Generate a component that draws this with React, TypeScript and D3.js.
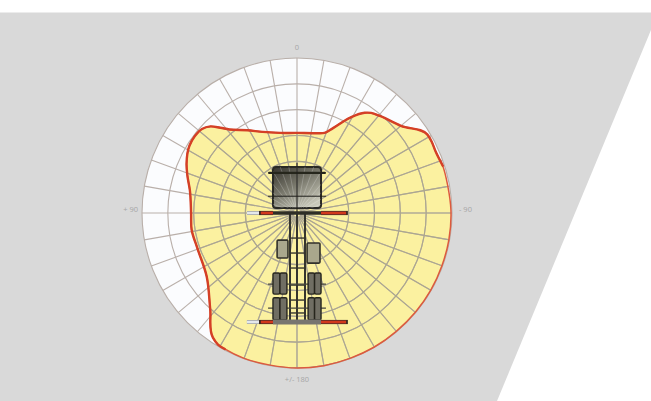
import * as d3 from 'd3';

const W = 651;
const H = 401;

// Polar grid
const ringSteps = [2, 3, 4, 5, 6];
const spokeAngles = d3.range(0, 360, 10);
const axisLabels = ['0', '- 90', '+/- 180', '+ 90'];

// Working range outline, clockwise from the front of the truck
const rangeAngles = [0, 13, 19, 23, 29, 34, 36.5, 40.5, 50, 59, 62, 66, 72, 80, 89, 100, 110, 120, 130, 140, 150, 160, 170, 180, 190, 200, 208, 211, 214, 222, 235, 251, 261, 270, 282, 289, 294, 302, 307, 311.5, 315, 318, 321, 329, 337, 348];
const rangeReach = [3.1, 3.17, 3.28, 3.57, 4.21, 4.68, 4.82, 4.94, 5.25, 5.89, 5.9, 5.87, 5.93, 5.93, 5.96, 5.97, 5.97, 5.98, 5.98, 5.98, 5.99, 5.99, 6, 6, 5.98, 5.99, 5.96, 5.94, 5.82, 5.02, 4.27, 4.09, 4.13, 4.1, 4.24, 4.49, 4.68, 4.91, 4.95, 4.91, 4.74, 4.44, 4.16, 3.74, 3.41, 3.17];

// Truck parts in the same units as the grid
const outriggerRows = [0, 4.22];
const chassisRails = [-0.27, 0, 0.31];
const crossMembers = [0.97, 1.55, 2.13, 2.79, 3.37, 3.87];
const axleRows = [2.75, 3.68];
const wheelRows = [[2.32, 3.14], [3.28, 4.14]];
const wheelCols = [[-0.93, -0.66], [-0.66, -0.39], [0.43, 0.68], [0.68, 0.93]];
const tanks = [[-0.77, -0.35, 1.05, 1.74], [0.39, 0.89, 1.16, 1.94]];

const cx = 297;
const cy = 213;
const R = 155;

const x = d3.scaleLinear().domain([-6, 6]).range([cx - R, cx + R]);
const y = d3.scaleLinear().domain([-6, 6]).range([cy - R, cy + R]);
const r = d3.scaleLinear().domain([0, 6]).range([0, R]);
const rad = (a: number) => (a * Math.PI) / 180;

function box(x0: number, x1: number, y0: number, y1: number) {
  return { x: x(x0), y: y(y0), width: x(x1) - x(x0), height: y(y1) - y(y0) };
}

export default function App() {
  const radial = d3
    .lineRadial<number>()
    .angle((i) => rad(rangeAngles[i]))
    .radius((i) => r(rangeReach[i]));
  const indices = rangeAngles.map((_, i) => i);
  const outline = radial.curve(d3.curveCatmullRomClosed.alpha(1))(indices) as string;

  // the red line is heavier where the reach is cut back by the truck
  const heavy = [
    ...indices.filter((i) => rangeAngles[i] >= 208),
    ...indices.filter((i) => rangeAngles[i] <= 72),
  ];
  const heavyLine = radial.curve(d3.curveCatmullRom.alpha(1))(heavy) as string;

  const edge = d3.line()([[0, 12.5], [W, 12.5], [W, 30], [497, H], [0, H]]) + 'Z';
  const textStyle = { fontFamily: 'Open Sans, sans-serif', fontSize: 7.5, fill: '#a6a6a6' };
  const cab = box(-0.93, 0.93, -1.78, -0.19);

  const spokes = (inner: number, stroke: string, width: number, opacity = 1) =>
    spokeAngles.map((a) => {
      const [x1, y1] = d3.pointRadial(rad(a), r(inner));
      const [x2, y2] = d3.pointRadial(rad(a), R);
      return <line key={a} x1={cx + x1} y1={cy + y1} x2={cx + x2} y2={cy + y2} stroke={stroke} strokeWidth={width} opacity={opacity} />;
    });

  return (
    <svg width={W} height={H} style={{ position: 'absolute', left: 0, top: 0 }}>
      <defs>
        <filter id="soft" x="-5%" y="-5%" width="110%" height="110%">
          <feGaussianBlur stdDeviation="0.5" />
        </filter>
        <clipPath id="range">
          <path d={outline} transform={`translate(${cx},${cy})`} />
        </clipPath>
        <clipPath id="cabClip">
          <rect {...cab} rx={3} />
        </clipPath>
        <linearGradient id="cabFill" x1="0" y1="0" x2="0.7" y2="1">
          <stop offset="0" stopColor="#35332d" />
          <stop offset="0.5" stopColor="#77766a" />
          <stop offset="1" stopColor="#c9c9ba" />
        </linearGradient>
      </defs>

      <path d={edge} fill="#d9d9d9" />

      <g filter="url(#soft)">
        <circle cx={cx} cy={cy} r={R} fill="#fbfcfe" />
        <path d={outline} transform={`translate(${cx},${cy})`} fill="#fbf1a0" />

        <g>{spokes(0.15, '#b9afa9', 1.1)}</g>
        {ringSteps.map((s) => (
          <circle key={s} cx={cx} cy={cy} r={r(s)} fill="none" stroke="#b9afa9" strokeWidth={1.1} />
        ))}
        <g clipPath="url(#range)">
          <g>{spokes(0.15, '#aca78e', 1.1)}</g>
          {ringSteps.map((s) => (
            <circle key={s} cx={cx} cy={cy} r={r(s)} fill="none" stroke="#aca78e" strokeWidth={1.1} />
          ))}
        </g>

        <path d={outline} transform={`translate(${cx},${cy})`} fill="none" stroke="#dc5a3e" strokeWidth={1.5} strokeLinejoin="round" />
        <path d={heavyLine} transform={`translate(${cx},${cy})`} fill="none" stroke="#d43f26" strokeWidth={2.4} strokeLinejoin="round" strokeLinecap="round" />

        {/* truck: cab */}
        <rect {...cab} rx={3} fill="url(#cabFill)" stroke="#2b2a26" strokeWidth={2} />
        <g clipPath="url(#cabClip)">{spokes(0.15, '#ffffff', 0.7, 0.3)}</g>
        <line x1={x(-1.08)} x2={x(1.08)} y1={y(-1.55)} y2={y(-1.55)} stroke="#26251f" strokeWidth={2.2} strokeLinecap="round" />
        <line x1={x(0)} x2={x(0)} y1={y(-1.95)} y2={y(0)} stroke="#1f1e1a" strokeWidth={1.1} />
        <line x1={x(-1.12)} x2={x(1.12)} y1={y(-0.65)} y2={y(-0.65)} stroke="#1f1e1a" strokeWidth={1} />

        {/* chassis */}
        {chassisRails.map((v) => (
          <line key={v} x1={x(v)} x2={x(v)} y1={y(0)} y2={y(4.22)} stroke="#35342d" strokeWidth={2} />
        ))}
        {crossMembers.map((v) => (
          <line key={v} x1={x(-0.27)} x2={x(0.31)} y1={y(v)} y2={y(v)} stroke="#35342d" strokeWidth={1.4} />
        ))}
        {axleRows.map((v) => (
          <line key={v} x1={x(-1.12)} x2={x(1.12)} y1={y(v)} y2={y(v)} stroke="#45443c" strokeWidth={1.2} />
        ))}
        {tanks.map((t) => (
          <rect key={t[0]} {...box(t[0], t[1], t[2], t[3])} rx={1} fill="#a9a78c" stroke="#33322b" strokeWidth={1.6} />
        ))}
        {wheelRows.map((row) =>
          wheelCols.map((col) => (
            <rect key={`${row[0]}-${col[0]}`} {...box(col[0], col[1], row[0], row[1])} rx={1.5} fill="#6f6e63" stroke="#26251f" strokeWidth={1.4} />
          ))
        )}

        {/* outriggers */}
        {outriggerRows.map((v) => (
          <g key={v}>
            <line x1={x(-1.94)} x2={x(-1.47)} y1={y(v)} y2={y(v)} stroke="#a9adb0" strokeWidth={4} />
            <line x1={x(-1.94)} x2={x(-1.47)} y1={y(v)} y2={y(v)} stroke="#e4e8ec" strokeWidth={2.2} />
            <line x1={x(-1.47)} x2={x(-0.93)} y1={y(v)} y2={y(v)} stroke="#3a2a24" strokeWidth={4.2} />
            <line x1={x(0.93)} x2={x(1.97)} y1={y(v)} y2={y(v)} stroke="#3a2a24" strokeWidth={4.2} />
            <line x1={x(-1.4)} x2={x(-0.93)} y1={y(v)} y2={y(v)} stroke="#d2371f" strokeWidth={2.8} />
            <line x1={x(0.93)} x2={x(1.9)} y1={y(v)} y2={y(v)} stroke="#d2371f" strokeWidth={2.8} />
            <line x1={x(-0.93)} x2={x(0.93)} y1={y(v)} y2={y(v)} stroke={v === 0 ? '#2e2d28' : '#77756f'} strokeWidth={v === 0 ? 3.5 : 5} />
          </g>
        ))}
      </g>

      <text x={cx} y={50} textAnchor="middle" style={textStyle}>{axisLabels[0]}</text>
      <text x={459} y={212} style={textStyle}>{axisLabels[1]}</text>
      <text x={cx} y={382} textAnchor="middle" style={textStyle}>{axisLabels[2]}</text>
      <text x={138} y={212} textAnchor="end" style={textStyle}>{axisLabels[3]}</text>
    </svg>
  );
}
